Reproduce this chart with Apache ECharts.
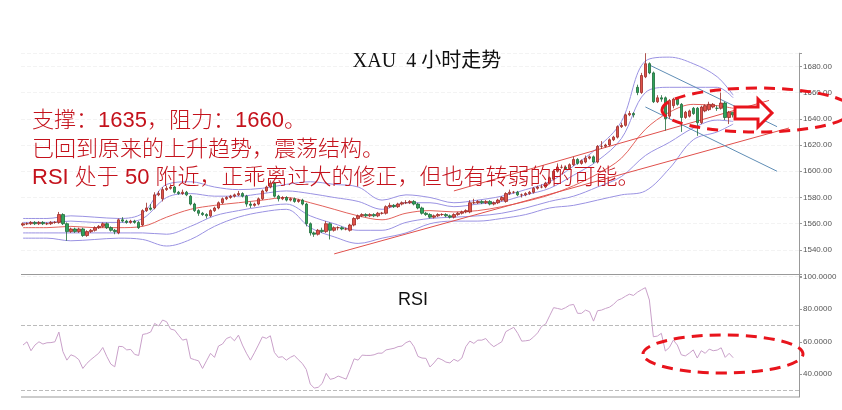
<!DOCTYPE html>
<html><head><meta charset="utf-8">
<script src="https://cdn.jsdelivr.net/npm/echarts@6/dist/echarts.min.js"></script>
<style>html,body{margin:0;padding:0;background:#fff}#c{width:842px;height:410px}</style>
</head><body><div id="c"></div>
<script>
// ---- data ----
const TOTAL_SLOTS = 195; // x-axis slots (candles + empty space on the right)
const opens = [1559,1560,1560,1561,1560,1561,1560,1560,1561,1561,1567,1560,1554,1556,1554,1556,1551,1554,1555,1557,1558,1560,1557,1555,1553,1563,1562,1561,1562,1561,1559,1570,1572,1572,1582,1579,1586,1587,1588,1584,1583,1584,1581,1575,1570,1568,1567,1566,1570,1572,1576,1579,1580,1581,1582,1583,1581,1575,1574,1575,1579,1585,1588,1591,1581,1579,1580,1578,1579,1577,1578,1575,1560,1553,1552,1555,1554,1560,1555,1557,1557,1556,1555,1559,1564,1566,1567,1566,1567,1566,1568,1568,1573,1574,1573,1575,1576,1576,1577,1575,1572,1568,1567,1565,1566,1567,1567,1566,1565,1567,1568,1569,1569,1576,1576,1577,1576,1577,1575,1576,1578,1577,1583,1584,1584,1582,1582,1583,1584,1587,1588,1588,1591,1594,1600,1603,1603,1602,1605,1609,1606,1607,1610,1611,1607,1619,1619,1620,1624,1626,1634,1635,1643,1644,1664,1660,1672,1682,1675,1653,1656,1656,1642,1650,1655,1651,1641,1642,1648,1648,1637,1646,1647,1649,1648,1648,1652,1641,1645];
const closes = [1560,1560,1561,1560,1561,1560,1560,1561,1561,1567,1560,1554,1556,1554,1556,1551,1554,1555,1557,1558,1560,1557,1555,1554,1563,1562,1561,1562,1561,1557,1570,1572,1571,1582,1583,1586,1587,1588,1584,1583,1584,1582,1575,1570,1568,1567,1566,1570,1572,1576,1579,1580,1581,1582,1583,1581,1575,1574,1575,1579,1585,1588,1591,1581,1579,1580,1578,1579,1577,1578,1575,1560,1553,1552,1555,1554,1560,1555,1557,1557,1556,1556,1559,1564,1566,1567,1566,1567,1566,1568,1568,1573,1574,1573,1575,1576,1576,1577,1575,1572,1568,1567,1565,1566,1567,1567,1566,1565,1567,1568,1569,1570,1576,1576,1577,1576,1577,1575,1576,1578,1580,1583,1584,1584,1582,1582,1583,1584,1587,1588,1588,1591,1595,1600,1603,1603,1602,1605,1609,1606,1608,1610,1611,1607,1619,1619,1620,1624,1626,1634,1635,1643,1644,1643,1660,1673,1682,1675,1653,1656,1655,1640,1654,1655,1651,1641,1645,1646,1644,1637,1649,1650,1651,1651,1648,1652,1641,1645,1643];
const lows = [1558,1559,1559,1559,1559,1559,1559,1559,1560,1560,1559,1547,1553,1553,1553,1550,1550,1553,1554,1556,1557,1556,1554,1552,1552,1561,1560,1560,1560,1556,1558,1569,1570,1571,1581,1577,1585,1586,1583,1582,1582,1581,1574,1569,1566,1566,1564,1565,1569,1571,1575,1578,1579,1580,1581,1580,1573,1572,1573,1574,1578,1584,1587,1580,1577,1578,1577,1577,1576,1576,1574,1558,1551,1550,1551,1553,1553,1548,1554,1555,1555,1555,1554,1558,1563,1565,1565,1565,1565,1565,1567,1567,1572,1572,1572,1574,1575,1575,1574,1571,1567,1566,1564,1564,1565,1566,1565,1564,1564,1566,1567,1568,1568,1575,1575,1575,1575,1574,1574,1575,1577,1576,1582,1583,1581,1580,1581,1582,1583,1586,1587,1587,1590,1593,1599,1602,1601,1601,1604,1605,1605,1606,1609,1606,1606,1617,1618,1619,1623,1625,1633,1634,1642,1641,1658,1659,1671,1674,1652,1652,1653,1631,1640,1648,1650,1630,1640,1641,1643,1627,1636,1645,1646,1648,1646,1647,1639,1636,1641];
const highs = [1561,1561,1562,1562,1562,1562,1561,1562,1562,1569,1568,1561,1557,1557,1557,1557,1555,1556,1558,1559,1561,1561,1558,1556,1564,1565,1563,1563,1563,1562,1571,1576,1575,1584,1585,1588,1589,1590,1589,1585,1586,1585,1582,1576,1571,1569,1568,1571,1573,1577,1580,1581,1582,1583,1585,1584,1582,1577,1576,1580,1586,1589,1593,1592,1582,1581,1581,1580,1580,1579,1579,1576,1561,1554,1556,1557,1562,1561,1558,1558,1558,1557,1560,1565,1567,1568,1568,1568,1568,1569,1569,1574,1576,1575,1576,1577,1578,1578,1578,1576,1573,1569,1568,1567,1568,1568,1568,1567,1568,1569,1570,1571,1578,1579,1578,1578,1578,1578,1577,1579,1581,1584,1586,1585,1585,1583,1584,1585,1588,1589,1590,1592,1596,1601,1606,1605,1604,1606,1611,1610,1609,1612,1612,1612,1620,1623,1621,1625,1627,1635,1637,1644,1646,1645,1666,1675,1690,1683,1676,1658,1658,1657,1655,1656,1656,1652,1646,1647,1649,1649,1650,1651,1653,1652,1650,1660,1653,1646,1645];
const rsi = [58,60,54.5,58,60,58.6,59.4,59.5,60,66,54,48.7,52,51,49,43.6,46.7,49,51,53,56.5,51,46.3,44.6,57.2,57,55,55.3,52.2,51.6,64.5,65,66,71.3,69.7,73.4,72.3,67.8,67.2,64,61,61.7,49.8,49,48.3,43.6,48.3,52.9,50.4,57.4,58.6,62,63,60.6,64.1,58,53,48.7,53.2,58,63,62.1,63.7,53.5,50.4,50.8,48.7,50.4,51.6,49,46.7,43,34,31.5,32,34.4,40.6,36.9,37.5,38.9,38,37,43,49.5,48.7,51.8,51.6,51.6,52,53,53,55,55.5,56,57,57.4,59.5,60.5,57,51,50,49.8,44.5,47,50,49,47.5,47,49.2,48,50,57,60.4,59,61,61,62,59,57,58.5,60,66.2,67.6,68.9,65.2,60.4,60.6,61,63,65.5,69.5,70.9,76,81,80.5,79.9,81,82.5,83,77.5,77.5,79.5,78.5,72.7,79.1,79.5,80.5,81.3,83,85.5,86.5,88,89.3,88.5,90.5,92,93.3,85.7,63.1,63.5,65.2,54.3,56.5,61,58,52,51.3,53,55,50,54.5,52.9,55.5,54.5,54.9,56.3,50.4,52.9,50.2];
// band lines, sampled at these candle positions
const bandIdx  = [0,6,12,18,24,30,36,42,48,54,60,66,72,78,84,90,96,102,108,114,120,126,132,138,144,150,156,162,168,174,178];
const bbUpper2 = [1564,1564,1566,1565,1564,1568,1590,1592,1588,1586,1587,1590,1592,1590,1588,1578,1582,1580,1576,1578,1581,1586,1592,1604,1618,1638,1684,1687,1682,1672,1658];
const bbUpper1 = [1561,1561,1562,1561,1561,1564,1580,1583,1581,1581,1583,1585,1583,1580,1577,1571,1576,1576,1573,1575,1577,1582,1587,1597,1608,1625,1660,1664,1664,1664,1656];
const bbMid    = [1557,1557,1558,1557,1557,1558,1565,1571,1574,1576,1578,1580,1576,1571,1566,1563,1568,1570,1569,1570,1573,1577,1582,1589,1598,1610,1632,1645,1651,1650,1648];
const bbLower1 = [1553,1553,1553,1553,1553,1553,1552,1558,1566,1570,1573,1575,1566,1560,1555,1555,1561,1564,1565,1566,1568,1572,1577,1581,1588,1596,1612,1622,1633,1639,1638];
const bbLower2 = [1549,1549,1547,1548,1549,1548,1543,1548,1558,1565,1569,1571,1557,1550,1545,1549,1553,1560,1562,1562,1564,1567,1572,1574,1578,1582,1585,1602,1624,1630,1636];
// hand-drawn trend lines: [candle position, price]
const redTrendLow  = [[78,1537],[192,1633]];
const redTrendHigh = [[108,1585],[187,1654]];
const blueTrendTop = [[157,1681],[189,1634]];
const blueTrendBot = [[156,1649],[189,1600]];
const titleText = 'XAU  4 小时走势';
const noteLines = ['支撑：1635，阻力：1660。','已回到原来的上升趋势，震荡结构。','RSI 处于 50 附近，正乖离过大的修正，但也有转弱的的可能。'];

const categories = [];
for (let i = 0; i < TOTAL_SLOTS; i++) categories.push(String(i));
const candleData = opens.map((o, i) => [o, closes[i], lows[i], highs[i]]);
const pairs = arr => bandIdx.map((k, j) => [k, arr[j]]);

const chart = echarts.init(document.getElementById('c'));
const purple = '#9a92e2', redLine = '#e2625c';
const lineSeries = (data, color, extra) => Object.assign({
  type: 'line', xAxisIndex: 0, yAxisIndex: 0, data: data, symbol: 'none', smooth: 0.35,
  lineStyle: { color: color, width: 1 }, z: 1, silent: true
}, extra || {});
const noteFont = '300 22px "Liberation Sans", "Noto Sans CJK SC"';

chart.setOption({
  animation: false,
  grid: [
    { left: 21, right: 43, top: 53.2, height: 223 },
    { left: 21, right: 43, top: 274, height: 132.8 }
  ],
  xAxis: [
    { type: 'category', gridIndex: 0, data: categories, show: false, boundaryGap: true },
    { type: 'category', gridIndex: 1, data: categories, show: false, boundaryGap: true }
  ],
  yAxis: [
    { type: 'value', gridIndex: 0, position: 'right', min: 1520, max: 1690, interval: 20,
      axisLine: { show: true, lineStyle: { color: '#999' } },
      axisTick: { show: true, length: 3, lineStyle: { color: '#999' } },
      splitLine: { show: true, lineStyle: { color: '#f3f3f3', type: 'dashed' } },
      axisLabel: { color: '#555', fontSize: 8, margin: 4, fontFamily: 'Liberation Sans',
        formatter: v => (v >= 1540 && v <= 1680) ? v.toFixed(2) : '' } },
    { type: 'value', gridIndex: 1, position: 'right', min: 20, max: 101.7, interval: 20,
      axisLine: { show: true, lineStyle: { color: '#999' } },
      axisTick: { show: true, length: 3, lineStyle: { color: '#999' } },
      splitLine: { show: false },
      axisLabel: { color: '#555', fontSize: 8, margin: 4, fontFamily: 'Liberation Sans',
        formatter: v => (v >= 40 && v <= 100) ? v.toFixed(4) : '' } }
  ],
  series: [
    lineSeries(pairs(bbUpper2), purple),
    lineSeries(pairs(bbUpper1), purple),
    lineSeries(pairs(bbMid), redLine),
    lineSeries(pairs(bbLower1), purple),
    lineSeries(pairs(bbLower2), purple),
    lineSeries(redTrendLow, '#e0504c', { smooth: false }),
    lineSeries(redTrendHigh, '#e0504c', { smooth: false }),
    lineSeries(blueTrendTop, '#5f8db5', { smooth: false }),
    lineSeries(blueTrendBot, '#5f8db5', { smooth: false }),
    { type: 'candlestick', xAxisIndex: 0, yAxisIndex: 0, data: candleData, barWidth: 3, z: 3,
      itemStyle: { color: '#e0524a', color0: '#2fa35a', borderColor: '#9a2a25', borderColor0: '#1f6b3a', borderWidth: 0.8 } },
    { type: 'line', xAxisIndex: 1, yAxisIndex: 1, data: rsi, symbol: 'none',
      lineStyle: { color: '#c9a0c9', width: 1 }, z: 3,
      markLine: { silent: true, symbol: 'none', label: { show: false },
        lineStyle: { color: '#bbb', type: 'dashed', width: 1 },
        data: [{ yAxis: 70 }, { yAxis: 30 }] } }
  ],
  graphic: [
    { type: 'rect', shape: { x: 0, y: 397.5, width: 842, height: 13 }, style: { fill: '#fff' }, z: 50 },
    { type: 'line', shape: { x1: 21, y1: 274.5, x2: 799, y2: 274.5 }, style: { stroke: '#999', lineWidth: 1 }, z: 51 },
    { type: 'line', shape: { x1: 21, y1: 397, x2: 799, y2: 397 }, style: { stroke: '#999', lineWidth: 1 }, z: 51 },
    { type: 'text', x: 427, y: 62, style: { text: titleText, fill: '#111', font: '20px "Liberation Serif", "Noto Sans CJK SC"', textAlign: 'center', textVerticalAlign: 'middle' }, z: 60 },
    { type: 'text', x: 413, y: 300, style: { text: 'RSI', fill: '#111', font: '18px "Liberation Sans"', textAlign: 'center', textVerticalAlign: 'middle' }, z: 60 },
    { type: 'text', x: 32, y: 121, style: { text: noteLines[0], fill: '#c4121c', font: noteFont, textVerticalAlign: 'middle' }, z: 60 },
    { type: 'text', x: 32, y: 150, style: { text: noteLines[1], fill: '#c4121c', font: noteFont, textVerticalAlign: 'middle' }, z: 60 },
    { type: 'text', x: 32, y: 178, style: { text: noteLines[2], fill: '#c4121c', font: noteFont, textVerticalAlign: 'middle' }, z: 60 },
    { type: 'ellipse', shape: { cx: 757, cy: 110, rx: 95, ry: 22 }, style: { fill: 'none', stroke: '#e8141c', lineWidth: 3, lineDash: [11, 7] }, z: 60 },
    { type: 'polygon', shape: { points: [[735,107],[758,107],[758,99],[772,113],[758,127],[758,119],[735,119]] }, style: { fill: '#fff', stroke: '#e8141c', lineWidth: 3 }, z: 61 },
    { type: 'ellipse', shape: { cx: 723, cy: 354, rx: 80, ry: 19 }, style: { fill: 'none', stroke: '#e8141c', lineWidth: 3, lineDash: [11, 7] }, z: 60 }
  ]
});
</script></body></html>
